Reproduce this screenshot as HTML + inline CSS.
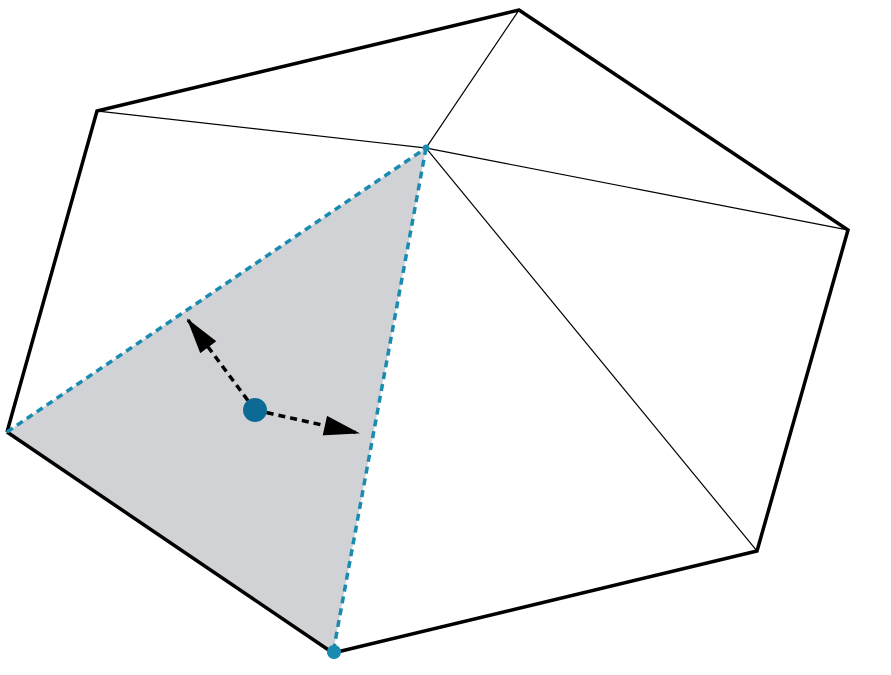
<!DOCTYPE html>
<html><head><meta charset="utf-8"><style>
html,body{margin:0;padding:0;background:#fff;}
svg{display:block;}
</style></head><body>
<svg width="891" height="675" viewBox="0 0 891 675">
<defs>
<marker id="ah" markerWidth="10" markerHeight="8" refX="9" refY="4" orient="auto" markerUnits="userSpaceOnUse" viewBox="0 0 10 8">
<path d="M0,0 L10,4 L0,8 Z" fill="#000"/>
</marker>
<marker id="ah2" markerWidth="36" markerHeight="20" refX="34" refY="10" orient="auto" markerUnits="userSpaceOnUse" viewBox="0 0 36 20">
<path d="M0,0 L36,10 L0,20 Z" fill="#000"/>
</marker>
</defs>
<polygon points="7,432 426,148 333,653" fill="#d1d2d6"/>
<g stroke="#000" stroke-width="1.2">
<line x1="426" y1="148" x2="97" y2="111"/>
<line x1="426" y1="148" x2="519" y2="10"/>
<line x1="426" y1="148" x2="848" y2="230"/>
<line x1="426" y1="148" x2="757" y2="551"/>
</g>
<polyline points="7,432 97,111 519,10 848,230 757,551 333,653" fill="none" stroke="#000" stroke-width="3.5" stroke-linejoin="miter"/>
<line x1="7" y1="432" x2="333" y2="653" stroke="#000" stroke-width="3.5"/>
<g stroke="#1a8bb0" stroke-width="3.5" stroke-dasharray="7,5">
<line x1="7" y1="432" x2="426" y2="148"/>
<line x1="426" y1="148" x2="333" y2="653"/>
</g>
<line x1="255" y1="410" x2="188" y2="320" stroke="#000" stroke-width="3.5" stroke-dasharray="7,5" marker-end="url(#ah2)"/>
<line x1="255" y1="410" x2="358" y2="433" stroke="#000" stroke-width="3.5" stroke-dasharray="7,5" marker-end="url(#ah2)"/>
<circle cx="255" cy="410" r="12" fill="#0c6a94"/>
<circle cx="334" cy="652" r="7" fill="#1a8bb0"/>
<circle cx="426" cy="148" r="3.5" fill="#1a8bb0"/>
</svg>
</body></html>
